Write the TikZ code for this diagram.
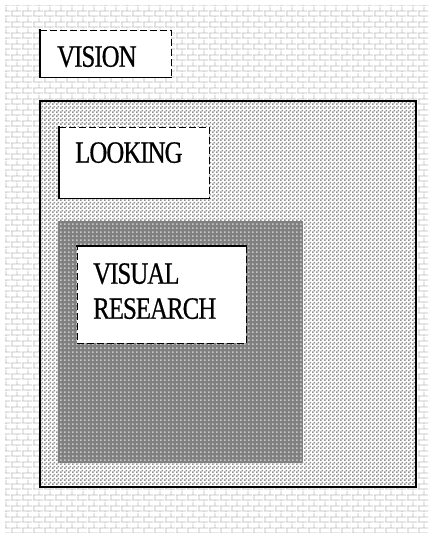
\documentclass[tikz,border=0pt]{standalone}
\usepackage{fontspec}
\newfontfamily\boxfont{Liberation Serif}[FakeStretch=0.80,LetterSpace=-3,FakeBold=0.6]
\usetikzlibrary{patterns.meta}

\definecolor{brickline}{gray}{0.74}
\definecolor{dotgray}{gray}{0.56}
\definecolor{coregray}{gray}{0.50}
\definecolor{corespeck}{gray}{0.78}

% wall of bricks behind everything
\tikzdeclarepattern{
  name=wallbricks,
  type=uncolored,
  bounding box={(0pt,0pt) and (11pt,11pt)},
  tile size={(11pt,11pt)},
  code={
    \draw[line width=0.9pt] (0pt,1pt) -- (11pt,1pt) (0pt,6.5pt) -- (11pt,6.5pt)
      (1pt,1pt) -- (1pt,6.5pt) (6.5pt,6.5pt) -- (6.5pt,11pt) (6.5pt,0pt) -- (6.5pt,1pt);
  }
}
% fine checker dots
\tikzdeclarepattern{
  name=checkdots,
  type=uncolored,
  bounding box={(0pt,0pt) and (4pt,4pt)},
  tile size={(4pt,4pt)},
  code={
    \fill (0pt,0pt) rectangle (2pt,2pt);
    \fill (2pt,2pt) rectangle (4pt,4pt);
  }
}
\tikzdeclarepattern{
  name=sparsedots,
  type=uncolored,
  bounding box={(0pt,0pt) and (4pt,4pt)},
  tile size={(4pt,4pt)},
  code={
    \fill (0pt,0pt) rectangle (2pt,2pt);
  }
}

\begin{document}
\begin{tikzpicture}[x=1pt,y=-1pt,
	wall/.style={fill=white, postaction={pattern=wallbricks, pattern color=brickline}},
	field/.style={fill=white, postaction={pattern=checkdots, pattern color=dotgray}},
	core/.style={fill=coregray, postaction={pattern=sparsedots, pattern color=corespeck}},
	card/.style={fill=white, inner sep=0pt, anchor=north west},
	solidedge/.style={line width=1.6pt, line cap=rect},
	dashedge/.style={line width=0.9pt, dash pattern=on 7pt off 3pt},
	lbl/.style={font=\boxfont\fontsize{31}{35}\selectfont, inner sep=0pt, anchor=north west, align=left}]
	\useasboundingbox (0,0) rectangle (429,533);
	\path[wall] (5,5) rectangle (429,533);

	% outer field and inner core
	\path[field] (40,101) rectangle (416,487);
	\draw[solidedge] (40,101) rectangle (416,487);
	\path[core] (58,221) rectangle (303,463);

	% boxes
	\node[card, minimum width=131, minimum height=47] (vision) at (40,30) {};
	\draw[solidedge] (vision.north west) -- (vision.south west) -- (vision.south east);
	\draw[dashedge] (vision.north west) -- (vision.north east) -- (vision.south east);
	\node[card, minimum width=150, minimum height=71] (looking) at (59,127) {};
	\draw[solidedge] (looking.north west) -- (looking.south west) -- (looking.south east);
	\draw[dashedge] (looking.north west) -- (looking.north east) -- (looking.south east);
	\node[card, minimum width=169, minimum height=97] (research) at (77,246) {};
	\draw[solidedge] (research.north west) -- (research.north east);
	\draw[dashedge] (research.north east) -- (research.south east) -- (research.south west) -- (research.north west);

	% labels
	\node[lbl] (visiontext) at (57,46) {VISION};
	\node[lbl] (lookingtext) at (75,142) {LOOKING};
	\node[lbl] (researchtext) at (93,263) {VISUAL\\RESEARCH};
\end{tikzpicture}
\end{document}
